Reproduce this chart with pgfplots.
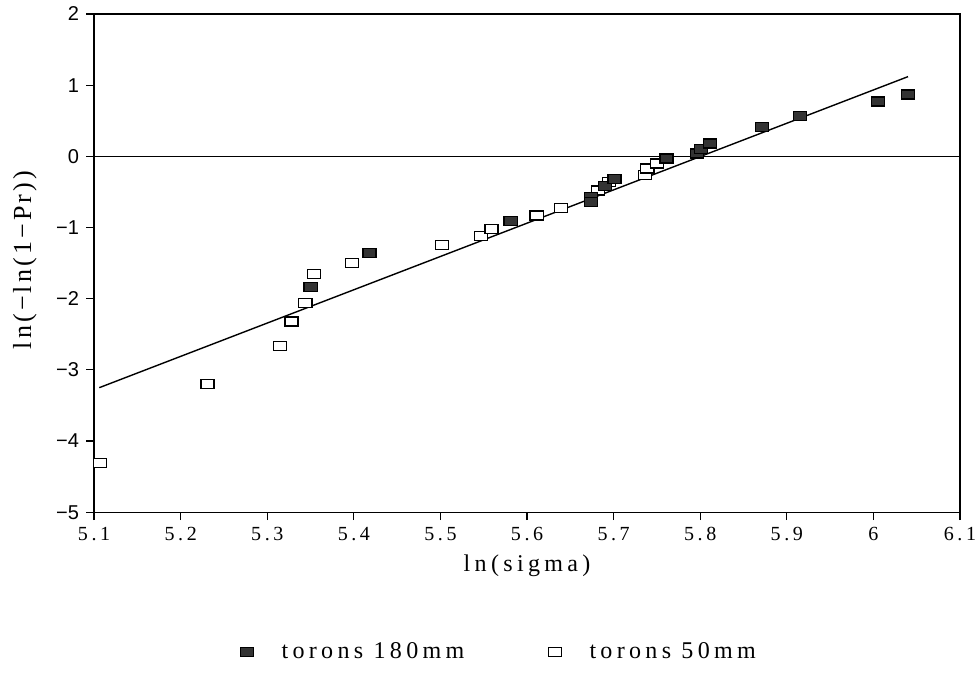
\documentclass[border=0pt]{standalone}
\usepackage{fontspec}
\setmainfont{Liberation Serif}
\newfontfamily\sffnt{Liberation Sans}
\newfontfamily\lsfnt{Liberation Serif}[LetterSpace=18]
\newfontfamily\ylfnt{Liberation Serif}[LetterSpace=12]
\usepackage{pgfplots}
\pgfplotsset{compat=1.18}
\begin{document}
\begin{tikzpicture}
\useasboundingbox (-47pt,-80.15pt) rectangle (441.5pt,255.85pt);
\begin{axis}[
  scale only axis, width=432.5pt, height=248.85pt,
  xmin=5.1, xmax=6.1, ymin=-5, ymax=2,
  xtick={5.1,5.2,5.3,5.4,5.5,5.6,5.7,5.8,5.9,6.0,6.1},
  xticklabels={5.1,5.2,5.3,5.4,5.5,5.6,5.7,5.8,5.9,6,6.1},
  ytick={-5,-4,-3,-2,-1,0,1,2},
  yticklabels={−5,−4,−3,−2,−1,0,1,2},
  tick align=outside, xtick pos=bottom, ytick pos=left,
  major tick length=4pt,
  axis line style={line width=0.7pt},
  tick style={line width=0.6pt, black},
  x tick label style={font=\lsfnt\fontsize{10}{12}\selectfont},
  y tick label style={font=\sffnt\fontsize{10}{12}\selectfont},
  xlabel={ln(sigma)}, ylabel={ln(−ln(1−Pr))},
  xlabel style={font=\lsfnt\fontsize{12}{14}\selectfont},
  ylabel style={font=\ylfnt\fontsize{13}{15}\selectfont,
    at={(axis description cs:-0.080,0.506)}, anchor=center},
  legend columns=2, reverse legend,
  legend style={at={(axis description cs:0.469,-0.281)}, anchor=center, draw=none,
    font=\lsfnt\fontsize{12}{14}\selectfont,
    /tikz/every odd column/.append style={column sep=12pt},
    /tikz/every even column/.append style={column sep=40pt}},
  legend cell align=left,
]
\addplot[black, line width=0.5pt, forget plot] coordinates {(5.1,0) (6.1,0)};
\addplot[black, line width=0.7pt, forget plot] coordinates {(5.106,-3.25) (6.040,1.12)};
\addplot[only marks, mark=square*, mark size=2.25pt,
  mark options={xscale=1.45, fill=white, draw=black, line width=0.6pt}] coordinates {
(5.107,-4.31) (5.231,-3.20) (5.315,-2.67) (5.328,-2.32) (5.344,-2.06)
(5.354,-1.65) (5.398,-1.50) (5.502,-1.24) (5.547,-1.12) (5.559,-1.02)
(5.611,-0.83) (5.639,-0.73) (5.682,-0.48) (5.695,-0.36) (5.736,-0.26)
(5.739,-0.17) (5.750,-0.10)
};
\addlegendentry{torons 50mm}
\addplot[only marks, mark=square*, mark size=2.25pt,
  mark options={xscale=1.45, fill=black!80, draw=black, line width=0.6pt}] coordinates {
(5.350,-1.84) (5.418,-1.36) (5.581,-0.91) (5.674,-0.57) (5.674,-0.64)
(5.690,-0.42) (5.701,-0.32) (5.761,-0.03) (5.796,0.04) (5.801,0.10)
(5.811,0.18) (5.871,0.41) (5.915,0.57) (6.005,0.77) (6.040,0.87)
};
\addlegendentry{torons 180mm}
\end{axis}
\end{tikzpicture}
\end{document}
